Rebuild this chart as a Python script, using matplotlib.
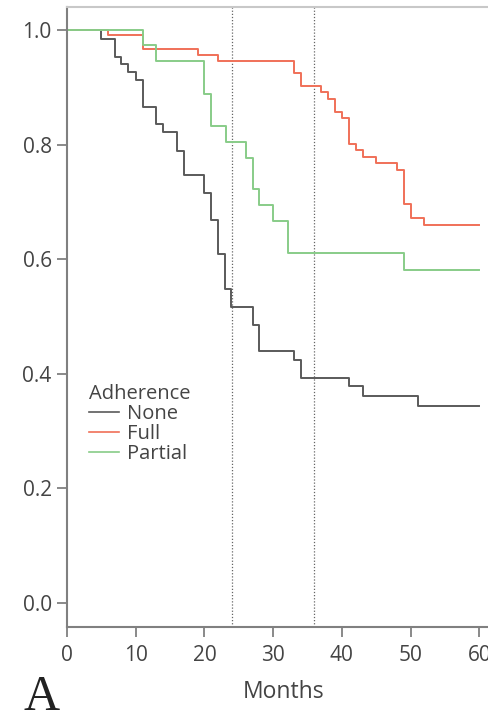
import matplotlib
matplotlib.use("Agg")
import matplotlib.pyplot as plt
from matplotlib.ticker import FormatStrFormatter

plt.rcParams['font.family'] = ['Open Sans', 'DejaVu Sans']

# Kaplan-Meier steps (months, survival)
none_t = [0, 5, 7, 7.8, 8.9, 10, 11.1, 12.9, 14, 16, 17, 19.9, 20.9, 22, 23, 23.9,
          27, 28, 33, 34, 41, 43, 51, 60]
none_s = [1, 0.984, 0.953, 0.940, 0.927, 0.913, 0.865, 0.835, 0.821, 0.789, 0.746,
          0.716, 0.668, 0.609, 0.547, 0.516, 0.485, 0.440, 0.424, 0.393, 0.378,
          0.361, 0.344, 0.344]

full_t = [0, 5.9, 11, 19, 22, 33, 34, 37, 38, 39, 40, 41, 42, 43, 45, 48, 49, 50,
          51.9, 60]
full_s = [1, 0.991, 0.967, 0.956, 0.946, 0.924, 0.902, 0.891, 0.880, 0.856, 0.846,
          0.801, 0.791, 0.779, 0.767, 0.756, 0.696, 0.671, 0.660, 0.660]

partial_t = [0, 11.1, 12.9, 19.9, 20.9, 23.1, 26, 27.1, 28, 30, 32.1, 49, 60]
partial_s = [1, 0.973, 0.945, 0.888, 0.832, 0.805, 0.776, 0.722, 0.695, 0.667,
             0.610, 0.581, 0.581]

groups = ['None', 'Full', 'Partial']
colors = ['#5a5a5a', '#f07058', '#88cc88']
marks = [24, 36]
x_ticks = [0, 10, 20, 30, 40, 50, 60]
y_ticks = [0.0, 0.2, 0.4, 0.6, 0.8, 1.0]

fig = plt.figure(figsize=(4.88, 7.14), dpi=100)
ax = fig.add_axes([67 / 488, 87 / 714, 433 / 488, 620 / 714])

lines = []
for t, s, name, c in zip([none_t, full_t, partial_t], [none_s, full_s, partial_s],
                         groups, colors):
    ln, = ax.step(t, s, where='post', color=c, lw=1.4, label=name)
    lines.append(ln)

for m in marks:
    ax.axvline(m, color='#666666', lw=0.9, ls=(0, (1, 1.5)), zorder=0)

ax.set_xlim(0, 63)
ax.set_ylim(-0.042, 1.04)
ax.set_xticks(x_ticks)
ax.set_yticks(y_ticks)
ax.yaxis.set_major_formatter(FormatStrFormatter('%.1f'))

ax.spines['right'].set_visible(False)
for sp in ['left', 'bottom']:
    ax.spines[sp].set_color('#808080')
    ax.spines[sp].set_linewidth(1.5)
ax.spines['top'].set_color('#c8c8c8')
ax.spines['top'].set_linewidth(1.5)

ax.tick_params(length=7, width=1.3, color='#808080', labelsize=15,
               labelcolor='#444444')
ax.tick_params(axis='x', pad=6)
ax.tick_params(axis='y', pad=4)

ax.set_xlabel('Months', fontsize=16.5, color='#444444', labelpad=10)

leg = ax.legend(handles=lines, title='Adherence', loc='upper left',
                bbox_to_anchor=(0.05, 0.392), frameon=False, fontsize=14.5,
                title_fontsize=14.5, handlelength=1.5, handletextpad=0.4,
                labelspacing=0.0, borderpad=0, borderaxespad=0)
leg._legend_box.align = 'left'
for txt in leg.get_texts():
    txt.set_color('#444444')
leg.get_title().set_color('#444444')
for h in leg.legend_handles:
    h.set_linewidth(1.2)

fig.text(23 / 488, 4 / 714, 'A', fontsize=36, family='Liberation Serif',
         color='#222222', va='baseline', ha='left')

fig.savefig('out.png', dpi=100)
